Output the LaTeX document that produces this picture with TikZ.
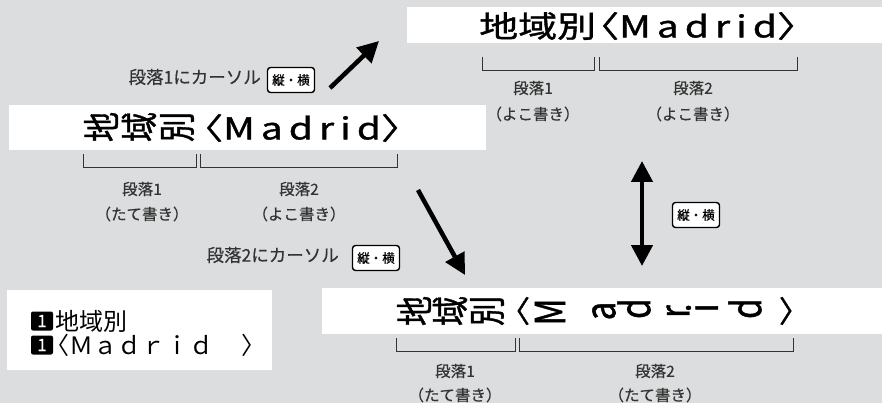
\documentclass[tikz,border=0pt]{standalone}
\usepackage{fontspec}
\usepackage{graphicx}
\setmainfont{Noto Sans CJK JP}
\newfontfamily\lcdfont[FakeStretch=1.3,FakeBold=1.2]{Noto Sans CJK JP}
\newfontfamily\lcdlatin[FakeStretch=1.3,FakeBold=1.2,LetterSpace=20]{Noto Sans CJK JP}
\newfontfamily\dispfont[FakeBold=1.2]{Noto Sans CJK JP}
\newfontfamily\labelfont[FakeBold=0.5]{Noto Sans CJK JP}
\definecolor{panelgray}{HTML}{DCDDDE}
\definecolor{inkgray}{HTML}{333333}
\usetikzlibrary{arrows.meta}
\newcommand{\tatechar}[1]{\scalebox{1.25}[1]{\rotatebox[origin=c]{90}{#1}}}
\newcommand{\bigfont}{\fontsize{30}{30}\selectfont}

\begin{document}
\begin{tikzpicture}[x=1pt,y=-1pt,
  screen/.style={fill=white},
  lbl/.style={text=inkgray,font=\labelfont\fontsize{15.5}{15.5}\selectfont,inner sep=0pt},
  keybox/.style={draw=black,fill=white,line width=1.4pt,rounded corners=3pt,
    minimum width=47pt,minimum height=25pt,inner sep=0pt,
    font=\labelfont\fontsize{12.5}{12.5}\selectfont},
  badge/.style={fill=black,text=white,rounded corners=2pt,minimum width=22pt,
    minimum height=19pt,inner sep=0pt,font=\labelfont\fontsize{17}{17}\selectfont},
  tate/.style={inner sep=0pt,font=\dispfont\bigfont},
  brace/.style={inkgray,line width=0.8pt},
  bigarrow/.style={line width=4.5pt,-{Triangle[length=21pt,width=21pt]}},
  dblarrow/.style={line width=4.5pt,{Triangle[length=21pt,width=21pt]}-{Triangle[length=21pt,width=21pt]}}]
  % background and bounding box
  \fill[panelgray] (0,0) rectangle (882,403);
  \useasboundingbox (0,0) rectangle (882,403);

  % top right: both paragraphs horizontal
  \fill[screen] (407,7) rectangle (882,43);
  \node[inner sep=0pt,anchor=west,font=\lcdfont\bigfont] (topline) at (479,26) {地域別\kern-16pt〈{\lcdlatin Madrid}〉};
  \draw[brace] (482,57) -- (482,70) -- (594,70) -- (594,57);
  \draw[brace] (599,57) -- (599,70) -- (797,70) -- (797,57);
  \node[lbl] (tr1a) at (533,88) {段落1};
  \node[lbl] (tr1b) at (533,114) {（よこ書き）};
  \node[lbl] (tr2a) at (693,88) {段落2};
  \node[lbl] (tr2b) at (693,114) {（よこ書き）};

  % top left: paragraph 1 vertical
  \node[lbl,anchor=east,font=\labelfont\fontsize{17.5}{17.5}\selectfont] (cur1) at (261,77) {段落1にカーソル};
  \node[keybox] (key1) at (291,80) {縦・横};
  \fill[screen] (9,105) rectangle (486,150);
  \node[tate] (l1) at (101,127) {\tatechar{地}};
  \node[tate] (l2) at (139,127) {\tatechar{域}};
  \node[tate] (l3) at (177,127) {\tatechar{別}};
  \node[inner sep=0pt,anchor=west,font=\lcdfont\bigfont] (leftline) at (184,128) {〈{\lcdlatin Madrid}〉};
  \draw[brace] (83,154) -- (83,167) -- (196,167) -- (196,154);
  \draw[brace] (200,154) -- (200,167) -- (397,167) -- (397,154);
  \node[lbl] (tl1a) at (142,189) {段落1};
  \node[lbl] (tl1b) at (142,214) {（たて書き）};
  \node[lbl] (tl2a) at (299,189) {段落2};
  \node[lbl] (tl2b) at (299,214) {（よこ書き）};

  % arrows
  \coordinate (a1s) at (330,88);
  \coordinate (a1e) at (379,41);
  \draw[bigarrow] (a1s) -- (a1e);
  \coordinate (a2s) at (418,190);
  \coordinate (a2e) at (465,275);
  \draw[bigarrow] (a2s) -- (a2e);
  \node[lbl,anchor=east,font=\labelfont\fontsize{17.5}{17.5}\selectfont] (cur2) at (339,255) {段落2にカーソル};
  \node[keybox] (key2) at (376,258) {縦・横};
  \coordinate (a3s) at (642,161);
  \coordinate (a3e) at (642,266);
  \draw[dblarrow] (a3s) -- (a3e);
  \node[keybox] (key3) at (696,215) {縦・横};

  % bottom left: display lines
  \fill[screen] (7,290) rectangle (272,370);
  \node[badge] (b1) at (42,321) {1};
  \node[inner sep=0pt,anchor=west,font=\fontsize{24}{24}\selectfont] (dl1) at (55,321) {地域別};
  \node[badge] (b2) at (42,345) {1};
  \node[inner sep=0pt,anchor=west,font=\fontsize{24}{24}\selectfont] (dl2) at (55,345) {\kern-10pt〈Ｍａｄｒｉｄ\kern28pt〉};

  % bottom right: both paragraphs vertical
  \fill[screen] (322,288) rectangle (882,334);
  \node[tate] (v1) at (414,311) {\tatechar{地}};
  \node[tate] (v2) at (450,311) {\tatechar{域}};
  \node[tate] (v3) at (487,311) {\tatechar{別}};
  \node[tate] (v4) at (515,311) {〈};
  \node[tate,font=\dispfont\fontsize{33}{33}\selectfont] (v5) at (550,312) {\tatechar{M}};
  \node[tate,font=\dispfont\fontsize{33}{33}\selectfont] (v6) at (604,311) {\tatechar{a}};
  \node[tate,font=\dispfont\fontsize{33}{33}\selectfont] (v7) at (634,310) {\tatechar{d}};
  \node[tate,font=\dispfont\fontsize{33}{33}\selectfont] (v8) at (678,313) {\tatechar{r}};
  \node[tate,font=\dispfont\fontsize{33}{33}\selectfont] (v9) at (702,312) {\tatechar{i}};
  \node[tate,font=\dispfont\fontsize{33}{33}\selectfont] (v10) at (745,310) {\tatechar{d}};
  \node[tate] (v11) at (794,311) {〉};
  \draw[brace] (396,338) -- (396,351) -- (515,351) -- (515,338);
  \draw[brace] (519,338) -- (519,351) -- (793,351) -- (793,338);
  \node[lbl] (br1a) at (455,371) {段落1};
  \node[lbl] (br1b) at (455,395) {（たて書き）};
  \node[lbl] (br2a) at (655,371) {段落2};
  \node[lbl] (br2b) at (655,395) {（たて書き）};
\end{tikzpicture}
\end{document}
